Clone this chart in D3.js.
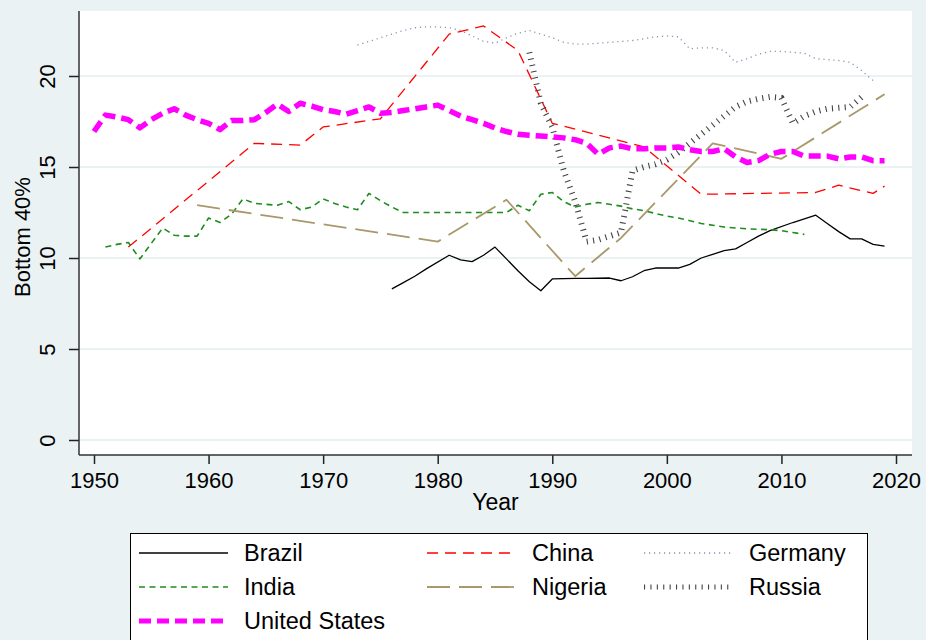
<!DOCTYPE html>
<html>
<head>
<meta charset="utf-8">
<script src="https://cdn.jsdelivr.net/npm/d3@7"></script>
<style>
html, body { margin: 0; padding: 0; background: #eaf2f3; }
svg { display: block; font-family: "Liberation Sans", Arial, sans-serif; }
</style>
</head>
<body>
<script>
"use strict";

// Data: [year, bottom 40% share]
let brazil = [[1976, 8.3], [1977, 8.65], [1978, 9.0], [1979, 9.4], [1981, 10.15], [1982, 9.9],
    [1983, 9.8], [1984, 10.15], [1985, 10.6], [1986, 9.95], [1987, 9.3], [1988, 8.7], [1989, 8.2],
    [1990, 8.85], [1992, 8.88], [1993, 8.88], [1995, 8.9], [1996, 8.75], [1997, 8.97], [1998, 9.3],
    [1999, 9.45], [2001, 9.45], [2002, 9.65], [2003, 10.0], [2004, 10.2], [2005, 10.4], [2006, 10.5],
    [2007, 10.85], [2008, 11.2], [2009, 11.5], [2011, 11.95], [2012, 12.15], [2013, 12.35],
    [2014, 11.9], [2015, 11.45], [2016, 11.05], [2017, 11.05], [2018, 10.75], [2019, 10.65]];

let china = [[1953, 10.6], [1964, 16.3], [1968, 16.2], [1970, 17.2], [1975, 17.65], [1981, 22.3],
    [1984, 22.75], [1987, 21.4], [1990, 17.4], [1998, 16.1], [2003, 13.5], [2013, 13.6],
    [2015, 14.0], [2018, 13.55], [2019, 13.95]];

let germany = [[1973, 21.7], [1974, 21.9], [1975, 22.1], [1976, 22.3], [1977, 22.5], [1978, 22.65],
    [1979, 22.7], [1980, 22.7], [1981, 22.65], [1982, 22.5], [1983, 22.2], [1984, 21.9], [1985, 21.8],
    [1986, 22.1], [1987, 22.35], [1988, 22.5], [1989, 22.3], [1990, 22.1], [1991, 21.85], [1992, 21.75],
    [1993, 21.75], [1994, 21.8], [1995, 21.85], [1996, 21.9], [1997, 21.95], [1998, 22.05],
    [1999, 22.15], [2000, 22.2], [2001, 22.15], [2002, 21.5], [2003, 21.55], [2004, 21.55],
    [2005, 21.4], [2006, 20.75], [2007, 20.95], [2008, 21.2], [2009, 21.35], [2010, 21.35],
    [2011, 21.3], [2012, 21.25], [2013, 20.95], [2014, 20.9], [2015, 20.85], [2016, 20.75],
    [2017, 20.3], [2018, 19.75]];

let india = [[1951, 10.6], [1952, 10.75], [1953, 10.85], [1954, 9.95], [1955, 10.8], [1956, 11.65],
    [1957, 11.25], [1958, 11.2], [1959, 11.2], [1960, 12.2], [1961, 11.95], [1962, 12.4], [1963, 13.25],
    [1964, 13.0], [1965, 12.95], [1966, 12.9], [1967, 13.1], [1968, 12.65], [1969, 12.8], [1970, 13.25],
    [1971, 13.0], [1972, 12.8], [1973, 12.65], [1974, 13.55], [1975, 13.15], [1976, 12.8], [1977, 12.5],
    [1986, 12.5], [1987, 12.9], [1988, 12.6], [1989, 13.5], [1990, 13.6], [1991, 13.1], [1992, 12.8],
    [1993, 12.95], [1994, 13.05], [1995, 12.95], [1996, 12.85], [1997, 12.7], [1998, 12.6],
    [1999, 12.45], [2000, 12.3], [2001, 12.2], [2002, 12.05], [2003, 11.9], [2004, 11.8],
    [2005, 11.7], [2006, 11.65], [2007, 11.6], [2008, 11.58], [2009, 11.55], [2010, 11.5],
    [2011, 11.4], [2012, 11.3]];

let nigeria = [[1959, 12.9], [1980, 10.9], [1986, 13.2], [1992, 9.0], [1996, 11.1], [2004, 16.3],
    [2010, 15.45], [2019, 19.0]];

let russia = [[1988, 21.3], [1989, 18.5], [1990, 17.2], [1991, 14.8], [1992, 13.1], [1993, 10.9],
    [1994, 11.0], [1995, 11.2], [1996, 11.4], [1997, 14.8], [1998, 15.0], [1999, 15.15], [2000, 15.4],
    [2001, 15.8], [2002, 16.3], [2003, 16.8], [2004, 17.3], [2005, 17.8], [2006, 18.3], [2007, 18.6],
    [2008, 18.75], [2009, 18.85], [2010, 18.8], [2011, 17.4], [2012, 17.8], [2013, 18.05],
    [2014, 18.2], [2015, 18.25], [2016, 18.3], [2017, 18.85]];

let unitedStates = [[1950, 16.95], [1951, 17.85], [1952, 17.75], [1953, 17.6], [1954, 17.15],
    [1955, 17.6], [1956, 17.95], [1957, 18.2], [1958, 17.85], [1959, 17.6], [1960, 17.4],
    [1961, 17.05], [1962, 17.55], [1963, 17.55], [1964, 17.6], [1965, 18.0], [1966, 18.45],
    [1967, 18.05], [1968, 18.5], [1969, 18.35], [1970, 18.15], [1971, 18.05], [1972, 17.9],
    [1973, 18.1], [1974, 18.3], [1975, 17.95], [1976, 18.0], [1977, 18.1], [1978, 18.2], [1979, 18.3],
    [1980, 18.4], [1981, 18.1], [1982, 17.8], [1983, 17.6], [1984, 17.4], [1985, 17.15], [1986, 16.95],
    [1987, 16.8], [1988, 16.75], [1989, 16.7], [1990, 16.65], [1991, 16.6], [1992, 16.5], [1993, 16.3],
    [1994, 15.7], [1995, 16.05], [1996, 16.15], [1997, 16.0], [1998, 16.0], [1999, 16.05], [2000, 16.05],
    [2001, 16.1], [2002, 15.95], [2003, 15.85], [2004, 15.85], [2005, 16.0], [2006, 15.55],
    [2007, 15.25], [2008, 15.35], [2009, 15.7], [2010, 15.85], [2011, 15.85], [2012, 15.6],
    [2013, 15.6], [2014, 15.6], [2015, 15.45], [2016, 15.55], [2017, 15.55], [2018, 15.35],
    [2019, 15.35]];

let countries = ["Brazil", "China", "Germany", "India", "Nigeria", "Russia", "United States"];
let seriesData = [brazil, china, germany, india, nigeria, russia, unitedStates];
let xTicks = [1950, 1960, 1970, 1980, 1990, 2000, 2010, 2020];
let yTicks = [0, 5, 10, 15, 20];

// line looks, Stata style
let styles = {
    "Brazil":        {color: "#000000", width: 1.3, dash: null},
    "China":         {color: "#ff0000", width: 1.3, dash: "11,7"},
    "Germany":       {color: "#8096b0", width: 1.3, dash: "1.2,3.8"},
    "India":         {color: "#1e8c1e", width: 1.6, dash: "6,4.5"},
    "Nigeria":       {color: "#a8986a", width: 1.8, dash: "23,9"},
    "Russia":        {color: "#444444", width: 6,   dash: "1.1,5.3"},
    "United States": {color: "#ff00ff", width: 5.5, dash: "12,6"}
};

let w = 926, h = 640;
let plot = {left: 79, right: 912, top: 11, bottom: 455};
let fontSize = 22;
let labelSize = 23.5;

let svg = d3.select("body").append("svg")
    .attr("width", w)
    .attr("height", h);

svg.append("rect")
    .attr("width", w).attr("height", h)
    .attr("fill", "#eaf2f3");

let x = d3.scaleLinear().domain([1950, 2020]).range([94, 896]);
let y = d3.scaleLinear().domain([0, 20]).range([440, 76]);

// plot region
svg.append("rect")
    .attr("x", plot.left).attr("y", plot.top)
    .attr("width", plot.right - plot.left)
    .attr("height", plot.bottom - plot.top)
    .attr("fill", "#ffffff");

// gridlines
svg.append("g")
    .selectAll("line")
    .data(yTicks)
    .enter().append("line")
    .attr("x1", plot.left).attr("x2", plot.right)
    .attr("y1", d => y(d)).attr("y2", d => y(d))
    .attr("stroke", "#eaf2f3")
    .attr("stroke-width", 2);

// series
let line = d3.line()
    .x(d => x(d[0]))
    .y(d => y(d[1]));

svg.append("g")
    .selectAll("path")
    .data(countries)
    .enter().append("path")
    .attr("d", (d, i) => line(seriesData[i]))
    .attr("fill", "none")
    .attr("stroke", d => styles[d].color)
    .attr("stroke-width", d => styles[d].width)
    .attr("stroke-dasharray", d => styles[d].dash)
    .attr("stroke-linejoin", "round");

// y axis
let yAxis = d3.axisLeft(y)
    .tickValues(yTicks)
    .tickSize(10)
    .tickPadding(14);
let gy = svg.append("g")
    .attr("transform", `translate(${plot.left},0)`)
    .call(yAxis);
gy.select(".domain").remove();
gy.selectAll(".tick line").attr("stroke", "#222").attr("stroke-width", 1.5);
gy.selectAll(".tick text")
    .attr("font-size", fontSize)
    .attr("fill", "#000")
    .attr("x", null).attr("dy", null)
    .attr("text-anchor", "middle")
    .attr("transform", "translate(-24,0) rotate(-90)");
gy.append("line")
    .attr("x1", 0).attr("x2", 0)
    .attr("y1", plot.top).attr("y2", plot.bottom)
    .attr("stroke", "#333").attr("stroke-width", 1.5);

// x axis
let xAxis = d3.axisBottom(x)
    .tickValues(xTicks)
    .tickFormat(d3.format("d"))
    .tickSize(9)
    .tickPadding(5);
let gx = svg.append("g")
    .attr("transform", `translate(0,${plot.bottom})`)
    .call(xAxis);
gx.select(".domain").remove();
gx.selectAll(".tick line").attr("stroke", "#222").attr("stroke-width", 1.5);
gx.selectAll(".tick text")
    .attr("font-size", fontSize)
    .attr("fill", "#000")
    .attr("dy", null)
    .attr("y", 33);
gx.append("line")
    .attr("x1", plot.left).attr("x2", plot.right)
    .attr("y1", 0).attr("y2", 0)
    .attr("stroke", "#333").attr("stroke-width", 1.5);

// axis titles
svg.append("text")
    .attr("x", (plot.left + plot.right) / 2)
    .attr("y", 510)
    .attr("text-anchor", "middle")
    .attr("font-size", 23)
    .text("Year");

svg.append("text")
    .attr("transform", "translate(30,237) rotate(-90)")
    .attr("text-anchor", "middle")
    .attr("font-size", fontSize)
    .text("Bottom 40%");

// legend
let legend = svg.append("g");
legend.append("rect")
    .attr("x", 130.5).attr("y", 533.5)
    .attr("width", 737).attr("height", 130)
    .attr("fill", "#ffffff")
    .attr("stroke", "#000")
    .attr("stroke-width", 1);

let colX = [139, 427, 644];
let rowY = [553, 587, 621];
let item = legend.selectAll("g.item")
    .data(countries)
    .enter().append("g")
    .attr("class", "item")
    .attr("transform", (d, i) => `translate(${colX[i % 3]},${rowY[Math.floor(i / 3)]})`);

item.append("line")
    .attr("x1", 0).attr("x2", 89)
    .attr("y1", 0).attr("y2", 0)
    .attr("stroke", d => styles[d].color)
    .attr("stroke-width", d => Math.min(styles[d].width, 5))
    .attr("stroke-dasharray", d => styles[d].dash);

item.append("text")
    .attr("x", 105)
    .attr("y", 8)
    .attr("font-size", labelSize)
    .text(d => d);
</script>
</body>
</html>
